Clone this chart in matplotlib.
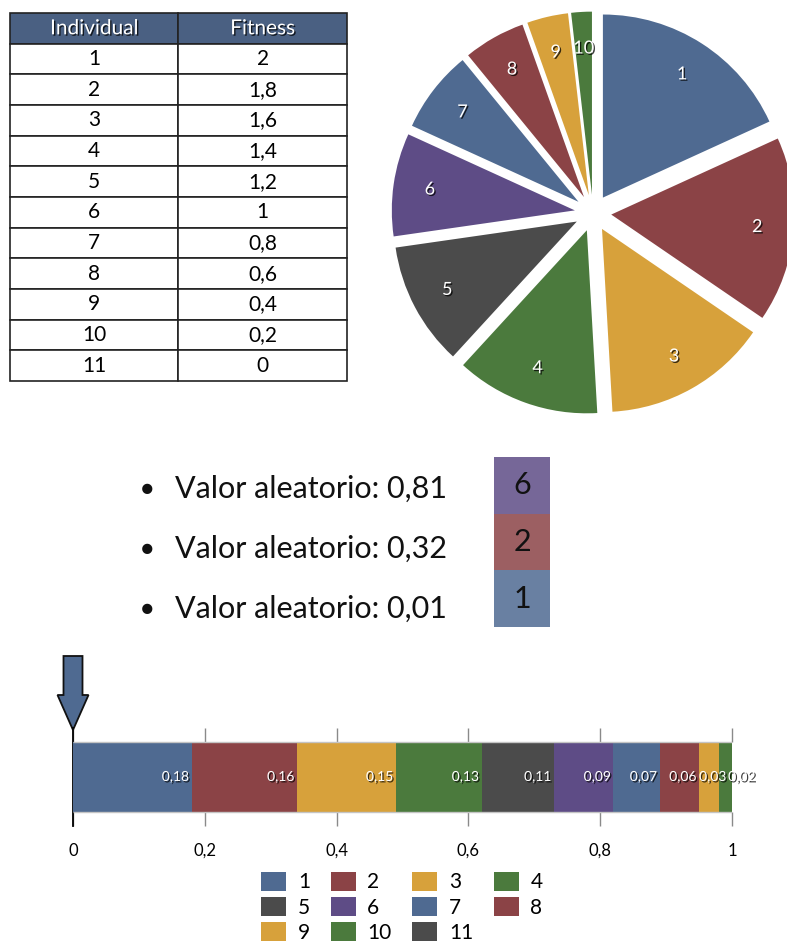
import numpy as np
import matplotlib
matplotlib.use('Agg')
import matplotlib.pyplot as plt
import matplotlib.patheffects as pe
import matplotlib.transforms as mtransforms
from matplotlib.patches import FancyArrow, Patch

plt.rcParams['font.family'] = ['Lato', 'DejaVu Sans']

# datos de la ruleta
individuos = list(range(1, 12))
fitness = [2, 1.8, 1.6, 1.4, 1.2, 1, 0.8, 0.6, 0.4, 0.2, 0]
probabilidad = [0.18, 0.16, 0.15, 0.13, 0.11, 0.09, 0.07, 0.06, 0.03, 0.02, 0.0]
aleatorios = [0.81, 0.32, 0.01]
marcas = [0, 0.2, 0.4, 0.6, 0.8, 1]

paleta = ['#4f6a91', '#8b4346', '#d7a13b', '#4b7a3d', '#4b4b4b', '#5e4c86']
colores = [paleta[i % len(paleta)] for i in range(len(individuos))]


def coma(v, fmt='g'):
    return format(v, fmt).replace('.', ',')


def aclarar(c, f=0.15):
    rgb = np.array(matplotlib.colors.to_rgb(c))
    return tuple(rgb + (1 - rgb) * f)


sombra = [pe.withSimplePatchShadow(offset=(1, -1), shadow_rgbFace='black', alpha=0.75)]

W, H = 787, 941
fig = plt.figure(figsize=(W / 100, H / 100), dpi=100)


def caja(x0, y0, x1, y1):
    # rectangulo en pixeles (origen arriba a la izquierda) -> fraccion de figura
    return [x0 / W, 1 - y1 / H, (x1 - x0) / W, (y1 - y0) / H]


# tabla de fitness
ax_t = fig.add_axes(caja(10, 13, 347, 381))
ax_t.axis('off')
celdas = [[str(i), coma(f)] for i, f in zip(individuos, fitness)]
tabla = ax_t.table(cellText=celdas, colLabels=['Individual', 'Fitness'],
                   cellLoc='center', bbox=[0, 0, 1, 1])
tabla.auto_set_font_size(False)
tabla.set_fontsize(15)
for (r, c), celda in tabla.get_celld().items():
    celda.set_linewidth(1.2)
    celda.set_edgecolor('#222222')
    if r == 0:
        celda.set_facecolor('#4a6082')
        celda.get_text().set_color('white')
        celda.get_text().set_path_effects(sombra)

# ruleta (pastel)
ax_p = fig.add_axes(caja(593 - 238, 213 - 238, 593 + 238, 213 + 238))
positivos = [i for i, f in enumerate(fitness) if f > 0]
cuñas, textos = ax_p.pie([fitness[i] for i in positivos],
                         labels=[str(individuos[i]) for i in positivos],
                         colors=[colores[i] for i in positivos],
                         startangle=90, counterclock=False,
                         explode=[0.1] * len(positivos), labeldistance=0.8,
                         wedgeprops=dict(edgecolor='none'),
                         textprops=dict(color='white', fontsize=13))
for t in textos:
    t.set_ha('center')
    t.set_va('center')
    t.set_path_effects(sombra)
ax_p.set_xlim(-1.3, 1.3)
ax_p.set_ylim(-1.3, 1.3)

# valores aleatorios y seleccion
acumulado = np.cumsum(probabilidad)
seleccion = [individuos[int(np.searchsorted(acumulado, v, side='right'))] for v in aleatorios]

for k, v in enumerate(aleatorios):
    y = 1 - (489 + 60 * k) / H
    fig.text(147 / W, y, '●', fontsize=15, ha='center', va='center', color='#111111')
    fig.text(175 / W, y, f'Valor aleatorio: {coma(v)}', fontsize=22,
             ha='left', va='center', color='#111111')

ax_c = fig.add_axes(caja(494, 457, 550, 627))
n = len(seleccion)
bases = np.arange(n)[::-1]
ax_c.bar(np.zeros(n), np.ones(n), bottom=bases, width=1,
         color=[aclarar(colores[s - 1]) for s in seleccion], edgecolor='none')
for b, s in zip(bases, seleccion):
    ax_c.text(0, b + 0.5, str(s), fontsize=22, ha='center', va='center', color='#111111')
ax_c.set_xlim(-0.5, 0.5)
ax_c.set_ylim(0, n)
ax_c.axis('off')

# barra acumulada
ax_b = fig.add_axes(caja(73, 728, 732, 826))
izq = np.concatenate([[0], acumulado[:-1]])
alto = 70 / 98
ax_b.barh(0.5, probabilidad, left=izq, height=alto, color=colores, edgecolor='none', zorder=3)
ax_b.hlines([0.5 - alto / 2, 0.5 + alto / 2], 0, acumulado[-1], color='#c4c4c4', lw=1, zorder=4)

ancho_txt = 0.044
fin_prev = 0
for l, p in zip(izq, probabilidad):
    if p <= 0:
        continue
    if p > ancho_txt + 0.01:
        ax_b.text(l + p - 0.004, 0.5, coma(p, '.2f'), color='white', fontsize=10,
                  ha='right', va='center', path_effects=sombra, zorder=5)
        fin_prev = l + p
    else:
        x0 = max(l, fin_prev)
        ax_b.text(x0, 0.5, coma(p, '.2f'), color='white', fontsize=10,
                  ha='left', va='center', path_effects=sombra, zorder=5)
        fin_prev = x0 + ancho_txt

ax_b.set_xlim(0, 1)
ax_b.set_ylim(0, 1)
ax_b.set_yticks([])
ax_b.set_xticks(marcas)
ax_b.set_xticklabels([coma(m) for m in marcas], fontsize=12)
ax_b.tick_params(axis='x', direction='in', top=True, length=10, width=1,
                 color='#8a8a8a', pad=12)
for lado in ['top', 'right', 'bottom']:
    ax_b.spines[lado].set_visible(False)
ax_b.spines['left'].set_linewidth(1.3)
ax_b.spines['left'].set_color('black')

# flecha que marca el inicio
trans = mtransforms.blended_transform_factory(ax_b.transData, ax_b.transAxes)
y_ini, y_fin = (826 - 656) / 98, (826 - 730) / 98
flecha = FancyArrow(0, y_ini, 0, y_fin - y_ini, width=19 / 659, head_width=31 / 659,
                    head_length=35 / 98, length_includes_head=True, transform=trans,
                    facecolor='#4f6a91', edgecolor='#111111', lw=1.3, clip_on=False)
ax_b.add_patch(flecha)

# leyenda (orden por filas)
ncol = 4
orden = [i for c in range(ncol) for i in range(c, len(individuos), ncol)]
manejadores = [Patch(facecolor=colores[i], edgecolor='none') for i in orden]
etiquetas = [str(individuos[i]) for i in orden]
fig.legend(manejadores, etiquetas, ncol=ncol, loc='upper center',
           bbox_to_anchor=(402 / W, 1 - 872 / H), frameon=False, fontsize=15,
           handlelength=1.2, handleheight=1.0, handletextpad=0.55,
           labelspacing=0.22, columnspacing=1.0, borderpad=0, borderaxespad=0)

fig.savefig('out.png', dpi=100)
